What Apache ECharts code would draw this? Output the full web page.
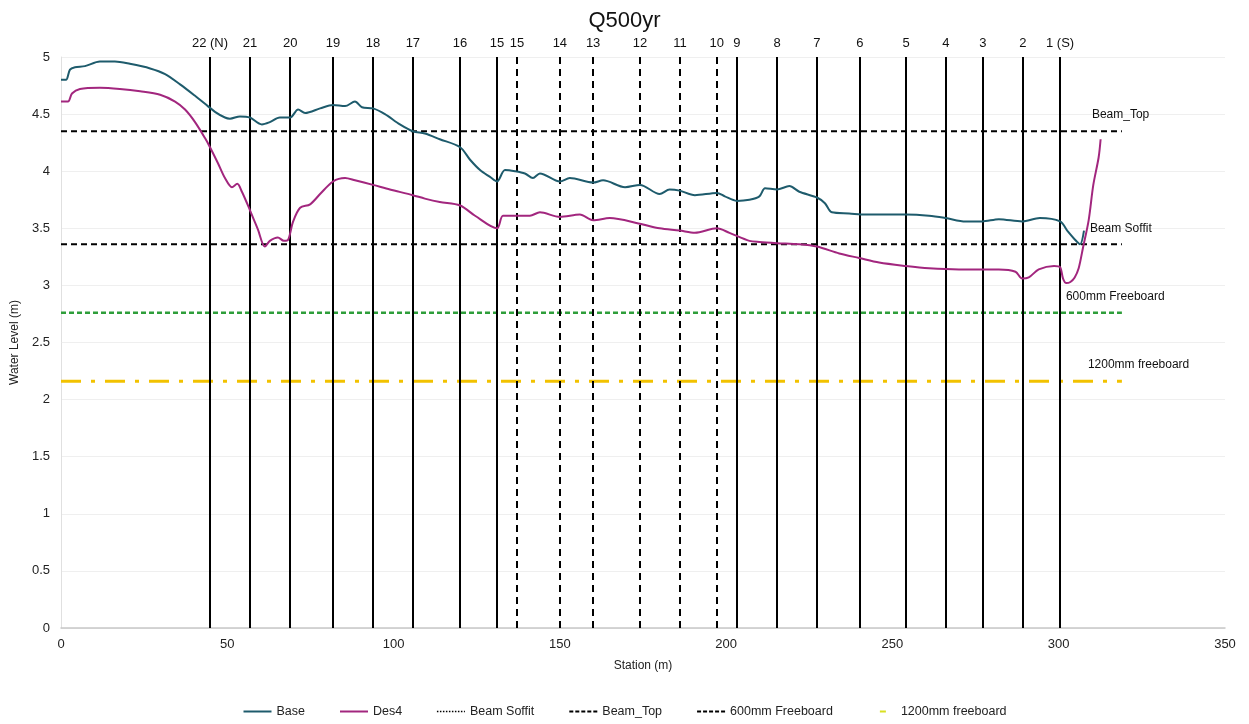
<!DOCTYPE html>
<html>
<head>
<meta charset="utf-8">
<script src="https://cdn.jsdelivr.net/npm/echarts@6/dist/echarts.min.js"></script>
<style>html,body{margin:0;padding:0;background:#fff;}#c{width:1249px;height:724px;}</style>
</head>
<body>
<div id="c"></div>
<script>
// ---- data ----
const titleText = 'Q500yr';
const baseStation = [0,1.5,2.7,4.2,7.2,11.7,16.2,20.7,26.8,31.3,35.8,40.3,43.3,46.3,49.3,50.8,53.8,56.8,60.4,62.8,65.8,68.9,71.3,73.4,77.9,81.8,85.4,88.4,90.5,93.8,97.4,101.9,105.8,109.4,113.9,120,123,126,129,131.1,133.5,136.5,139.5,141.9,144,150,153,160,163,169.6,174.1,180,183,186,190.6,197.2,199.6,203.2,207,210,211.7,215.3,219,222,227.3,229.7,231.8,237,242,246,254,261,266,272,277,282,289,294.3,300.4,302.8,304.9,306.4,307.6];
const baseLevel   = [4.80,4.80,4.89,4.91,4.92,4.96,4.96,4.94,4.90,4.85,4.76,4.66,4.59,4.52,4.47,4.46,4.48,4.47,4.41,4.43,4.47,4.47,4.54,4.51,4.55,4.58,4.57,4.61,4.56,4.55,4.50,4.41,4.35,4.33,4.28,4.21,4.10,4.01,3.95,3.91,4.01,4.00,3.98,3.94,3.98,3.91,3.94,3.90,3.92,3.86,3.88,3.80,3.84,3.83,3.79,3.81,3.78,3.74,3.75,3.78,3.85,3.84,3.87,3.82,3.77,3.72,3.64,3.63,3.62,3.62,3.62,3.61,3.59,3.56,3.56,3.58,3.56,3.59,3.56,3.47,3.40,3.36,3.48];
const des4Station = [0,2.1,3.3,5.7,11.7,17.7,23.8,29.8,34.3,37.3,40.3,43.3,44.8,47.2,49.3,51.4,53,54.4,56.8,59.2,61.3,62.8,65.2,67,68.3,69.8,71.9,74.9,77.9,81.8,85.4,88.4,93.8,98.9,105.8,109.4,113.9,120,124.5,131.1,132.9,136.5,141,144,150,156,160,165,174,180,186,190.6,197.2,201,207,210,215.3,222,227.3,234,240,246,254,261,270,277,282,287,289,291,294,298.6,300.4,301.3,302.3,303.5,304.8,306,307.3,309,310.4,312,312.6];
const des4Level   = [4.61,4.61,4.68,4.72,4.73,4.72,4.70,4.67,4.61,4.54,4.43,4.29,4.21,4.07,3.94,3.86,3.89,3.82,3.66,3.49,3.34,3.39,3.42,3.39,3.40,3.56,3.68,3.71,3.80,3.91,3.94,3.92,3.88,3.84,3.79,3.76,3.73,3.70,3.61,3.50,3.61,3.61,3.61,3.64,3.60,3.62,3.57,3.59,3.54,3.50,3.48,3.46,3.50,3.46,3.39,3.38,3.37,3.36,3.34,3.28,3.24,3.20,3.17,3.15,3.14,3.14,3.14,3.12,3.06,3.07,3.14,3.17,3.16,3.06,3.02,3.03,3.07,3.15,3.33,3.57,3.88,4.12,4.28];
const refNames  = ['Beam Soffit','Beam_Top','600mm Freeboard','1200mm freeboard'];
const refLevels = [3.36, 4.35, 2.76, 2.16];
const refExtent = [0, 319];
const solidPierStations = [44.8,56.8,68.9,81.8,93.8,105.8,120.0,131.1,203.2,215.3,227.3,240.2,254.1,266.1,277.2,289.2,300.4];
const solidPierLabels   = ['22 (N)','21','20','19','18','17','16','15','9','8','7','6','5','4','3','2','1 (S)'];
const dashedPierStations = [137.1,150.0,160.0,174.1,186.1,197.2];
const dashedPierLabels   = ['15','14','13','12','11','10'];
const xTicks = [0, 350, 50];
const yTicks = [0, 5, 0.5];

// ---- chart ----
const FONT = 'Liberation Sans, Arial, sans-serif';
const chart = echarts.init(document.getElementById('c'));
const zip = (a, b) => a.map((v, i) => [v, b[i]]);

const refStyles = {
  'Beam Soffit':      {color:'#000', width:2, type:[6,4]},
  'Beam_Top':         {color:'#000', width:2, type:[6,4]},
  '600mm Freeboard':  {color:'#2e9e3a', width:2.5, type:[5,3]},
  '1200mm freeboard': {color:'#f2c200', width:3, type:[20,10,4,10]}
};
const refLabelPos = {
  'Beam Soffit':      [-32, -16],
  'Beam_Top':         [-30, -17],
  '600mm Freeboard':  [-56, -16],
  '1200mm freeboard': [-34, -17]
};

function pierLines(stations, labels, dashed) {
  return {
    type: 'line', name: dashed ? 'piersB' : 'piersA', data: [], silent: true,
    markLine: {
      silent: true, symbol: ['none','none'], animation: false,
      lineStyle: {color:'#000', width: 2, type: dashed ? [7,5] : 'solid'},
      label: {show:true, position:'end', formatter:'{b}', color:'#111', fontSize:13, fontFamily:FONT, distance:7},
      data: stations.map((s, i) => ({xAxis: s, name: labels[i]}))
    }
  };
}

const series = [
  {name:'Base', type:'line', data: zip(baseStation, baseLevel), showSymbol:false, symbol:'none', smooth:0.3,
   lineStyle:{color:'#1e5b6c', width:2}, itemStyle:{color:'#1e5b6c'}, z:5},
  {name:'Des4', type:'line', data: zip(des4Station, des4Level), showSymbol:false, symbol:'none', smooth:0.3,
   lineStyle:{color:'#a2267e', width:2}, itemStyle:{color:'#a2267e'}, z:5}
];
refNames.forEach((n, i) => {
  series.push({
    name: n, type:'line', symbol:'none', showSymbol:false,
    data: [[refExtent[0], refLevels[i]], [refExtent[1], refLevels[i]]],
    lineStyle: refStyles[n], itemStyle:{color: refStyles[n].color}, z:4,
    endLabel: {show:true, formatter:'{a}', color:'#111', fontSize:12, fontFamily:FONT,
               distance:0, offset: refLabelPos[n]}
  });
});
series.push(pierLines(solidPierStations, solidPierLabels, false));
series.push(pierLines(dashedPierStations, dashedPierLabels, true));

chart.setOption({
  animation: false,
  backgroundColor: '#fff',
  title: {text: titleText, left: 'center', top: 5,
          textStyle: {fontFamily: FONT, fontSize: 22, fontWeight: 'normal', color: '#111'}},
  grid: {left: 61, right: 24, top: 57, bottom: 96},
  legend: {
    bottom: 1, left: 'center', itemWidth: 28, itemHeight: 10, itemGap: 34,
    itemStyle: {opacity: 0},
    textStyle: {fontFamily: FONT, fontSize: 12.5, color: '#222'},
    data: [
      {name:'Base', itemStyle:{opacity:0}},
      {name:'Des4', itemStyle:{opacity:0}},
      {name:'Beam Soffit', itemStyle:{opacity:0}, lineStyle:{color:'#000', width:1.5, type:'dotted'}},
      {name:'Beam_Top', itemStyle:{opacity:0}, lineStyle:{color:'#000', width:2, type:[4,2]}},
      {name:'600mm Freeboard', itemStyle:{opacity:0}, lineStyle:{color:'#000', width:2, type:[4,2]}},
      {name:'1200mm freeboard', itemStyle:{opacity:0}, lineStyle:{color:'#d9e021', width:2, type:[0,12,6,20]}}
    ]
  },
  xAxis: {
    type: 'value', min: xTicks[0], max: xTicks[1], interval: xTicks[2],
    name: 'Station (m)', nameLocation: 'middle', nameGap: 32,
    nameTextStyle: {fontFamily: FONT, fontSize: 12, color: '#222'},
    axisLine: {show: true, lineStyle: {color: '#c8c8c8', width: 1.5}},
    axisTick: {show: false},
    axisLabel: {fontFamily: FONT, fontSize: 13, color: '#222', margin: 10},
    splitLine: {show: false}
  },
  yAxis: {
    type: 'value', min: yTicks[0], max: yTicks[1], interval: yTicks[2],
    name: 'Water Level (m)', nameLocation: 'middle', nameGap: 36,
    nameTextStyle: {fontFamily: FONT, fontSize: 12, color: '#222'},
    axisLine: {show: true, lineStyle: {color: '#e0e0e0'}},
    axisTick: {show: false},
    axisLabel: {fontFamily: FONT, fontSize: 13, color: '#222', margin: 11},
    splitLine: {show: true, lineStyle: {color: '#efefef'}}
  },
  series: series
});
</script>
</body>
</html>
